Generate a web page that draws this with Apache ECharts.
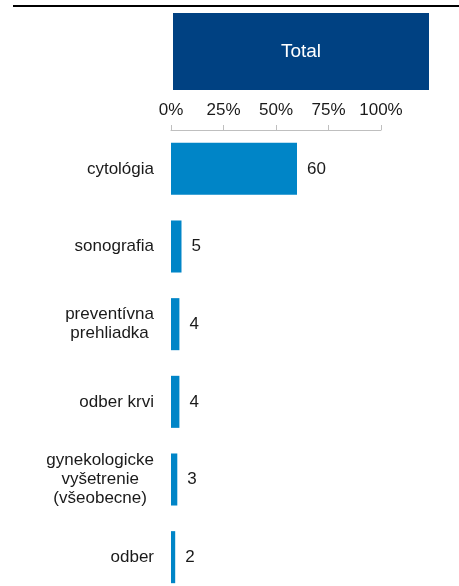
<!DOCTYPE html>
<html>
<head>
<meta charset="utf-8">
<script src="https://cdn.jsdelivr.net/npm/echarts@6/dist/echarts.min.js"></script>
<style>
  html, body { margin: 0; padding: 0; background: #fff; }
  #chart { width: 459px; height: 586px; }
</style>
</head>
<body>
<div id="chart"></div>
<script>
  const categories = [
    'cytológia',
    'sonografia',
    'preventívna\nprehliadka',
    'odber krvi',
    'gynekologicke\nvyšetrenie\n(všeobecne)',
    'odber',
  ];
  const values = [60, 5, 4, 4, 3, 2];
  const headerTitle = 'Total';
  const tickValues = [0, 25, 50, 75, 100];

  const font = 'Arial, "Liberation Sans", sans-serif';
  const chart = echarts.init(document.getElementById('chart'));

  const option = {
    animation: false,
    graphic: [
      {
        type: 'rect',
        shape: { x: 13, y: 5, width: 446, height: 2 },
        style: { fill: '#000' },
      },
      {
        type: 'rect',
        shape: { x: 173, y: 13, width: 256, height: 77 },
        style: { fill: '#004182' },
      },
      {
        type: 'text',
        x: 301,
        y: 52,
        style: {
          text: headerTitle,
          fill: '#fff',
          font: '19px ' + font,
          align: 'center',
          verticalAlign: 'middle',
        },
      },
    ],
    grid: { left: 171, top: 130, width: 210, height: 466, outerBoundsMode: 'none' },
    xAxis: {
      type: 'value',
      position: 'top',
      min: tickValues[0],
      max: tickValues[tickValues.length - 1],
      interval: 25,
      axisLine: { show: true, lineStyle: { color: '#bfbfbf', width: 1 } },
      axisTick: { show: true, length: 5, lineStyle: { color: '#bfbfbf' } },
      splitLine: { show: false },
      axisLabel: {
        formatter: '{value}%',
        fontFamily: font,
        fontSize: 17,
        color: '#1a1a1a',
        margin: 11,
      },
    },
    yAxis: {
      type: 'category',
      inverse: true,
      data: categories,
      axisLine: { show: false },
      axisTick: { show: false },
      axisLabel: {
        margin: 17,
        align: 'right',
        formatter: (v) => v.split('\n').map((s) => '{c|' + s + '}').join('\n'),
        rich: {
          c: {
            fontFamily: font,
            fontSize: 17,
            lineHeight: 19,
            color: '#1a1a1a',
            align: 'center',
          },
        },
      },
    },
    series: [
      {
        type: 'bar',
        data: values,
        barCategoryGap: '33%',
        itemStyle: { color: '#0085c7' },
        label: {
          show: true,
          position: 'right',
          distance: 10,
          fontFamily: font,
          fontSize: 17,
          color: '#1a1a1a',
        },
      },
    ],
  };

  chart.setOption(option);
</script>
</body>
</html>
